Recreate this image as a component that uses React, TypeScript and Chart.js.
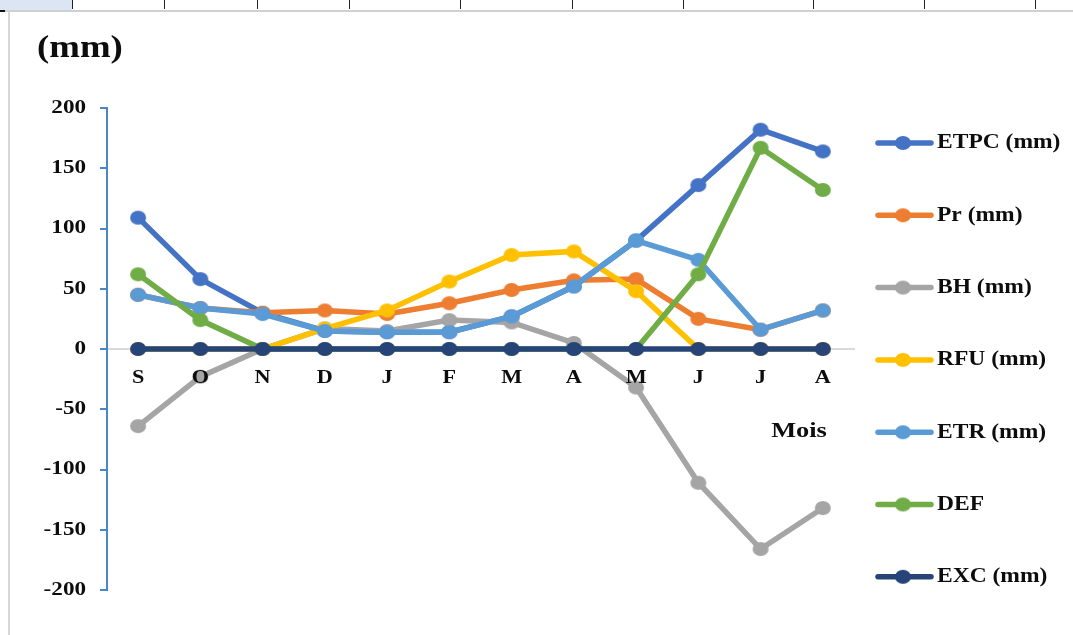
import React, { useEffect, useRef } from 'react';
import { Chart, registerables } from 'chart.js';

Chart.register(...registerables);

// Months of the hydrological year (September → August)
const months = ['S', 'O', 'N', 'D', 'J', 'F', 'M', 'A', 'M', 'J', 'J', 'A'];

// Water balance terms, mm
const etpc = [109, 58, 30, 15, 14, 14, 27, 52, 90, 136, 182, 164];
const pr = [45, 34, 30, 32, 29, 38, 49, 57, 58, 25, 16, 32];
const bh = [-64, -23, 0, 17, 15, 24, 22, 5, -32, -111, -166, -132];
const rfu = [0, 0, 0, 17, 32, 56, 78, 81, 48, 0, 0, 0];
const etr = [45, 34, 29, 15, 14, 14, 27, 52, 90, 74, 16, 32];
const def = [62, 24, 0, 0, 0, 0, 0, 0, 0, 62, 167, 132];
const exc = [0, 0, 0, 0, 0, 0, 0, 0, 0, 0, 0, 0];

const seriesNames = ['ETPC (mm)', 'Pr (mm)', 'BH (mm)', 'RFU (mm)', 'ETR (mm)', 'DEF', 'EXC (mm)'];
const seriesValues = [etpc, pr, bh, rfu, etr, def, exc];
const seriesColors = ['#4472C4', '#ED7D31', '#A5A5A5', '#FFC000', '#5B9BD5', '#70AD47', '#264478'];

const yMin = -200;
const yMax = 200;
const yStep = 50;

const yAxisTitle = '(mm)';
const xAxisTitle = 'Mois';

const SERIF = '"Liberation Serif", "Times New Roman", serif';

function makeMarker(color: string): HTMLCanvasElement {
  const c = document.createElement('canvas');
  c.width = 18;
  c.height = 16;
  const g = c.getContext('2d')!;
  g.fillStyle = color;
  g.beginPath();
  g.ellipse(9, 8, 8, 7, 0, 0, Math.PI * 2);
  g.fill();
  return c;
}

function drawWideText(
  ctx: CanvasRenderingContext2D,
  text: string,
  x: number,
  y: number,
  align: CanvasTextAlign,
  size: number,
  stretch: number,
  color = '#0d0d0d'
) {
  ctx.save();
  ctx.translate(x, y);
  ctx.scale(stretch, 1);
  ctx.font = `bold ${size}px ${SERIF}`;
  ctx.fillStyle = color;
  ctx.textAlign = align;
  ctx.textBaseline = 'middle';
  ctx.fillText(text, 0, 0);
  ctx.restore();
}

export default function App() {
  const canvasRef = useRef<HTMLCanvasElement | null>(null);

  useEffect(() => {
    document.body.style.margin = '0';
    const canvas = canvasRef.current;
    if (!canvas) return;

    const markers = seriesColors.map(makeMarker);

    const labelsPlugin = {
      id: 'wideLabels',
      afterDraw(chart: any) {
        const ctx: CanvasRenderingContext2D = chart.ctx;
        const xs = chart.scales.x;
        const ys = chart.scales.y;
        const area = chart.chartArea;
        const zeroY = ys.getPixelForValue(0);

        // y tick labels
        ys.ticks.forEach((t: any) => {
          drawWideText(ctx, String(t.value), area.left - 21, ys.getPixelForValue(t.value), 'right', 18.5, 1.25);
        });

        // month labels just under the zero line
        months.forEach((m, i) => {
          drawWideText(ctx, m, xs.getPixelForValue(i), zeroY + 29, 'center', 18.5, 1.2);
        });

        // axis titles
        drawWideText(ctx, yAxisTitle, 37, 49, 'left', 32, 1.15);
        drawWideText(ctx, xAxisTitle, area.right - 55, zeroY + 82, 'center', 22, 1.2);

        // legend
        const lx = area.right + 22;
        seriesNames.forEach((name, i) => {
          const cy = 143 + i * 72.3;
          ctx.save();
          ctx.strokeStyle = seriesColors[i];
          ctx.lineWidth = 5.5;
          ctx.lineCap = 'round';
          ctx.beginPath();
          ctx.moveTo(lx + 2, cy);
          ctx.lineTo(lx + 55, cy);
          ctx.stroke();
          const mk = markers[i];
          ctx.drawImage(mk, lx + 27 - mk.width / 2, cy - mk.height / 2);
          ctx.restore();
          drawWideText(ctx, name, lx + 61, cy, 'left', 21, 1.12);
        });
      },
    };

    const chart = new Chart(canvas, {
      type: 'line',
      data: {
        labels: months,
        datasets: seriesValues.map((values, i) => ({
          label: seriesNames[i],
          data: values,
          borderColor: seriesColors[i],
          backgroundColor: seriesColors[i],
          borderWidth: 5.5,
          tension: 0,
          pointStyle: markers[i],
          pointRadius: 8,
          pointHoverRadius: 8,
          fill: false,
          clip: false as any,
          order: seriesNames.length - i,
        })),
      },
      options: {
        responsive: false,
        animation: false,
        layout: { padding: { left: 99, right: 219, top: 108, bottom: 45 } },
        plugins: {
          legend: { display: false },
          tooltip: { enabled: false },
          title: { display: false },
        },
        scales: {
          x: {
            type: 'category',
            offset: true,
            position: { y: 0 } as any,
            grid: { display: false },
            border: { display: true, color: '#d9d9d9', width: 2 },
            ticks: { display: false },
          },
          y: {
            type: 'linear',
            min: yMin,
            max: yMax,
            ticks: { display: false, stepSize: yStep },
            grid: {
              display: true,
              drawOnChartArea: false,
              drawTicks: true,
              tickLength: 7,
              color: '#4a86c8',
              lineWidth: 2,
            },
            border: { display: true, color: '#4a86c8', width: 2 },
            afterFit: (scale: any) => {
              scale.width = 8;
            },
          },
        },
      },
      plugins: [labelsPlugin],
    });

    return () => chart.destroy();
  }, []);

  const headerTicks = [72, 164, 257, 349, 460, 572, 683, 813, 924, 1035];

  return (
    <div style={{ position: 'relative', width: 1073, height: 635, background: '#fff', overflow: 'hidden' }}>
      <canvas
        ref={canvasRef}
        width={1073}
        height={635}
        style={{ position: 'absolute', left: 0, top: 0, width: 1073, height: 635 }}
      />
      {/* spreadsheet column header strip */}
      <div style={{ position: 'absolute', left: 0, top: 0, width: 72, height: 10, background: '#dbe5f3' }} />
      {headerTicks.map((x) => (
        <div key={x} style={{ position: 'absolute', left: x, top: 0, width: 1, height: 9, background: '#222' }} />
      ))}
      <div style={{ position: 'absolute', left: 0, top: 10, width: 1073, height: 2, background: '#d0d0d0' }} />
      <div style={{ position: 'absolute', left: 0, top: 10, width: 5, height: 2, background: '#111' }} />
      <div style={{ position: 'absolute', left: 8, top: 12, width: 2, height: 623, background: '#d6d6d6' }} />
    </div>
  );
}
